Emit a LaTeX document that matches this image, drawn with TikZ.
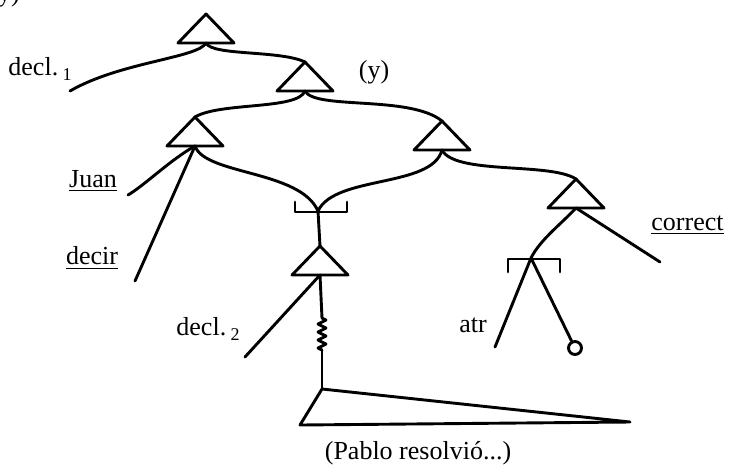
\documentclass[tikz,border=0pt]{standalone}
\usepackage{fontspec}
\setmainfont{Liberation Serif}
\usetikzlibrary{decorations.pathmorphing}

\tikzset{
  pics/tri/.style={code={
    \draw (-28,29) -- (0,0) -- (28,29) -- cycle;
    \coordinate (-top) at (0,0);
    \coordinate (-root) at (0,29);}},
  pics/brk/.style={code={
    \draw (-26,#1) -- (-26,0) -- (26,0) -- (26,#1);
    \coordinate (-c) at (-3,-1);}},
}

\begin{document}
\begin{tikzpicture}[x=0.5pt,y=-0.5pt,line width=1.45pt,line cap=round,line join=round,
  lab/.style={inner sep=0pt,font=\fontsize{13}{15}\selectfont},
  spring/.style={decorate,decoration={zigzag,segment length=4pt,amplitude=2pt}}]
  \useasboundingbox (0,0) rectangle (729,468);
  \clip (0,0) rectangle (729,468);

  % fragment of the line above
  \node[lab,anchor=base] (frag) at (9,1) {y)};

  % triangles
  \pic (t1) at (206,14) {tri};
  \pic (t2) at (305,62) {tri};
  \pic (t3) at (195,117) {tri};
  \pic (t4) at (442,121) {tri};
  \pic (t5) at (320,246) {tri};
  \pic (t6) at (576,179) {tri};
  \pic (b1) at (321,212) {brk=-10};
  \pic (b2) at (534,259) {brk=13};

  % labels
  \node[lab,anchor=west] (decl1) at (7,69) {decl.\,\raisebox{-.45ex}{\small 1}};
  \node[lab] (y) at (374,72) {(y)};
  \node[lab] (juan) at (93,181) {\underline{Juan}};
  \node[lab] (decir) at (92,258) {\underline{decir}};
  \node[lab,anchor=west] (correct) at (650,225) {\underline{correct}};
  \node[lab,anchor=west] (decl2) at (175,329) {decl.\,\raisebox{-.45ex}{\small 2}};
  \node[lab] (atr) at (473,325) {atr};
  \node[lab] (pablo) at (418,453) {(Pablo resolvió...)};

  % free ends
  \coordinate (d1end) at (70,91);
  \coordinate (juanend) at (128,195);
  \coordinate (decirend) at (135,281);
  \coordinate (corrend) at (660,262);
  \coordinate (d2end) at (245,357);
  \coordinate (atrend) at (495,347);
  \coordinate (sp1) at (322,318);
  \coordinate (sp2) at (322,350);
  \node[circle,draw,inner sep=0pt,minimum size=6.5pt] (circ) at (575,348) {};

  % big triangle
  \coordinate (bt) at (322,389);
  \coordinate (bl) at (300,425);
  \coordinate (br) at (630,422);
  \draw (bt) -- (bl) -- (br) -- cycle;

  % connectors
  \draw (t1-root) .. controls (198,58) and (120,62) .. (d1end);
  \draw (t1-root) .. controls (212,56) and (280,50) .. (t2-top);
  \draw (t2-root) .. controls (298,110) and (220,102) .. (t3-top);
  \draw (t2-root) .. controls (315,110) and (410,95) .. (t4-top);
  \draw (t3-root) .. controls (170,160) and (145,185) .. (juanend);
  \draw (t3-root) -- (decirend);
  \draw (t3-root) .. controls (205,175) and (300,170) .. (b1-c);
  \draw (t4-root) .. controls (432,188) and (335,175) .. (b1-c);
  \draw (t4-root) .. controls (455,175) and (550,162) .. (t6-top);
  \draw (t6-root) -- (corrend);
  \draw (t6-root) .. controls (560,225) and (540,240) .. (b2-c);
  \draw (b1-c) -- (t5-top);
  \draw (t5-root) -- (d2end);
  \draw (t5-root) -- (sp1);
  \draw[spring] (sp1) -- (sp2);
  \draw (sp2) -- (bt);
  \draw (b2-c) -- (atrend);
  \draw (b2-c) -- (circ);
\end{tikzpicture}
\end{document}
